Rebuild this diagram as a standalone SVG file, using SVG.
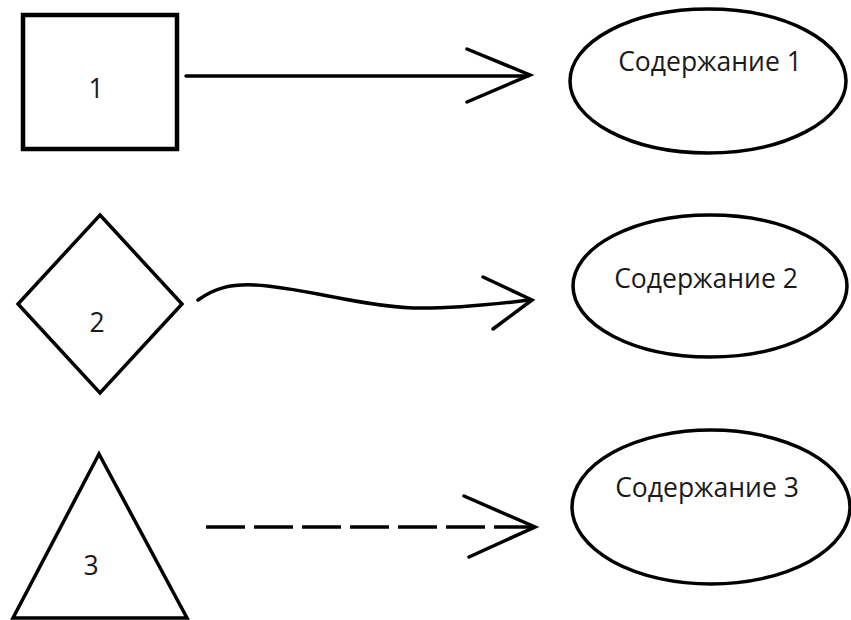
<svg xmlns="http://www.w3.org/2000/svg" width="851" height="620" viewBox="0 0 851 620">
<style>
.s{fill:none;stroke:#000;stroke-width:3.5;stroke-linecap:round;stroke-linejoin:miter}
.t{font-family:"Open Sans","Noto Sans","DejaVu Sans",sans-serif;font-size:26.5px;fill:#1a1a1a}
.n{text-anchor:middle}
</style>
<rect width="851" height="620" fill="#fff"/>
<g id="node-1">
<rect x="23" y="15" width="154" height="134" class="s" style="stroke-width:4.5"/>
<text x="96" y="98" class="t n">1</text>
</g>
<g id="node-2">
<polygon points="100,215 182,304 100,393 18,304" class="s"/>
<text x="97" y="332" class="t n">2</text>
</g>
<g id="node-3">
<polygon points="99,454 187,618 13,618" class="s"/>
<text x="91" y="575" class="t n">3</text>
</g>
<g id="ellipse-1">
<ellipse cx="708" cy="81" rx="138" ry="72" class="s"/>
<text x="710" y="71" class="t n">Содержание 1</text>
</g>
<g id="ellipse-2">
<ellipse cx="710" cy="286" rx="137" ry="71" class="s"/>
<text x="706" y="288" class="t n">Содержание 2</text>
</g>
<g id="ellipse-3">
<ellipse cx="711" cy="507" rx="139" ry="77" class="s"/>
<text x="707" y="497" class="t n">Содержание 3</text>
</g>
<g id="connectors">
<line x1="186" y1="76" x2="528" y2="76" class="s"/>
<polyline points="467,49 530,75 467,102" class="s"/>
<path d="M198,300 C215,288 230,284 255,285 C300,287 360,306 413,308 C460,309 500,303 531,300" class="s"/>
<polyline points="483,277 532,300 493,329" class="s"/>
<line x1="206" y1="527" x2="533" y2="527" class="s" style="stroke-linecap:butt;stroke-dasharray:39 9"/>
<polyline points="464,496 535,527 469,557" class="s"/>
</g>
</svg>
